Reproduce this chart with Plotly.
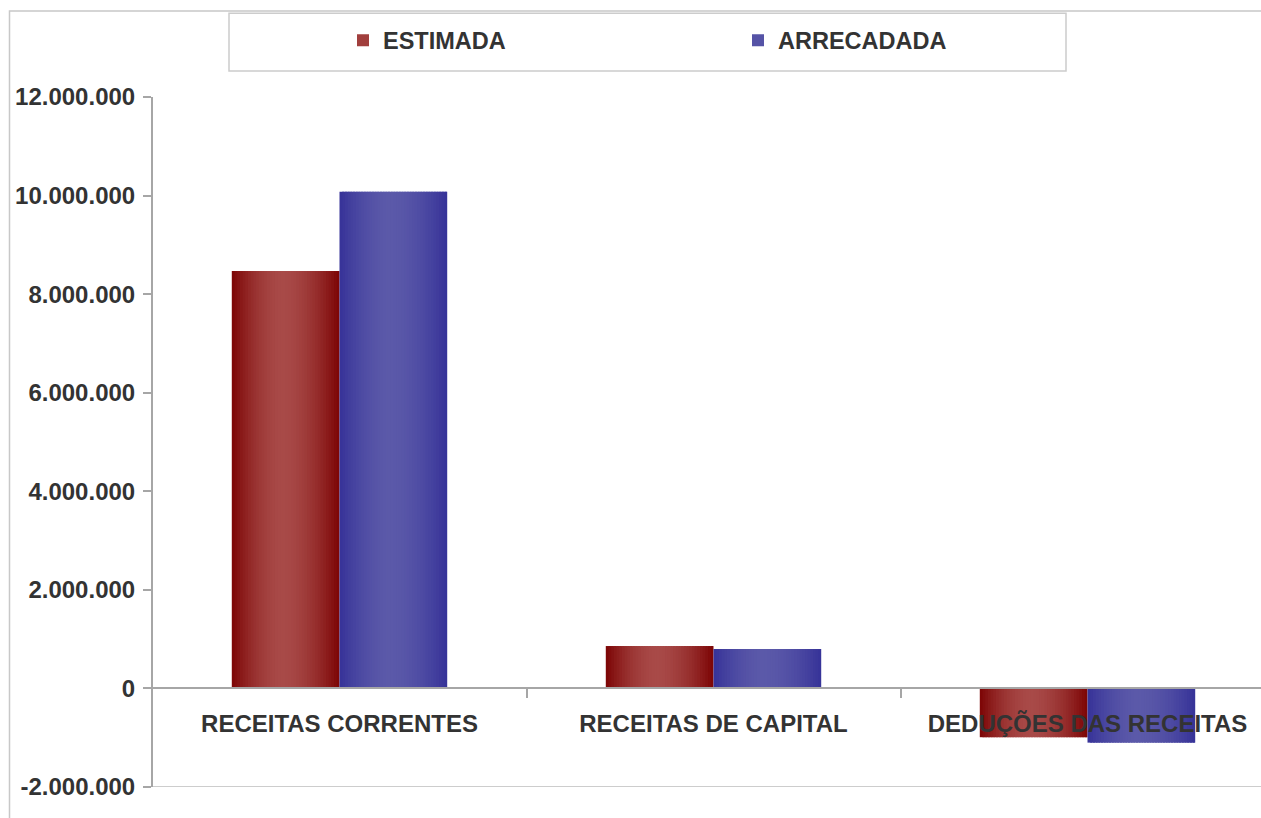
import math
import plotly.graph_objects as go

# Receitas: valores estimados x arrecadados (R$)
categorias = ["RECEITAS CORRENTES", "RECEITAS DE CAPITAL", "DEDUÇÕES DAS RECEITAS"]
estimada = [8_470_000, 860_000, -990_000]
arrecadada = [10_080_000, 800_000, -1_100_000]
series_nomes = ["ESTIMADA", "ARRECADADA"]

y_ticks = [-2_000_000, 0, 2_000_000, 4_000_000, 6_000_000, 8_000_000, 10_000_000, 12_000_000]
y_tick_labels = ["-2.000.000", "0", "2.000.000", "4.000.000", "6.000.000",
                 "8.000.000", "10.000.000", "12.000.000"]

FONT = "Liberation Sans, Arial, sans-serif"
TXT = "#333333"
AXIS = "#a6a6a6"

W, H = 1261, 818
ML, MR, MT, MB = 153, 0, 97, 31
PW, PH = W - ML - MR, H - MT - MB
CAT_PX = 374.0


def px_x(p):
    return (p - ML) / PW


def px_y(p):
    return (H - MB - p) / PH


def mix(c1, c2, f):
    return "rgb(%d,%d,%d)" % tuple(round(a + (b - a) * f) for a, b in zip(c1, c2))


def shade(t, peak=0.47):
    u = (t - peak) / (peak if t < peak else 1 - peak)
    return max(0.0, 1 - abs(u) ** 1.7)


# cylinder-like horizontal gradient, built from thin bar slices
estilos = [
    dict(dark=(124, 4, 4), light=(168, 74, 72), offset=-0.288),
    dict(dark=(54, 50, 152), light=(91, 89, 169), offset=0.0),
]
BAR_W = 0.288
N = 40

fig = go.Figure()
for s, (nome, valores, est) in enumerate(zip(series_nomes, [estimada, arrecadada], estilos)):
    step = BAR_W / N
    for i in range(N):
        t = (i + 0.5) / N
        off = est["offset"] + i * step
        wid = min(step * 1.8, est["offset"] + BAR_W - off)
        cor = mix(est["dark"], est["light"], shade(t))
        leg = i == int(N * 0.3)
        fig.add_trace(go.Bar(
            x=categorias, y=valores, name=nome,
            offset=off, width=wid,
            marker=dict(color=cor, line=dict(width=0)),
            showlegend=leg, legendgroup=nome, legendrank=s + 1,
            hovertemplate="%{x}<br>" + nome + ": %{y:,.0f}<extra></extra>",
        ))

x0 = -186.5 / CAT_PX
fig.update_layout(
    width=W, height=H,
    margin=dict(l=ML, r=MR, t=MT, b=MB, autoexpand=False),
    paper_bgcolor="white", plot_bgcolor="white",
    barmode="overlay",
    font=dict(family=FONT, size=24, color=TXT, weight="bold"),
    showlegend=True,
    legend=dict(
        orientation="h", x=px_x(343), xanchor="left", y=px_y(40.5), yanchor="middle",
        font=dict(family=FONT, size=23.5, color=TXT, weight="bold"),
        entrywidth=350, entrywidthmode="pixels",
        bgcolor="rgba(0,0,0,0)", borderwidth=0, traceorder="normal",
    ),
    xaxis=dict(
        type="category", categoryorder="array", categoryarray=categorias,
        range=[x0, x0 + PW / CAT_PX],
        anchor="free", position=2 / 14,
        showline=True, linecolor=AXIS, linewidth=2,
        ticks="outside", tickson="boundaries", ticklen=9, tickwidth=2, tickcolor=AXIS,
        ticklabelstandoff=14,
        showgrid=False, zeroline=False,
        tickfont=dict(family=FONT, size=24, color=TXT, weight="bold"),
    ),
    yaxis=dict(
        range=[-2_000_000, 12_000_000],
        tickmode="array", tickvals=y_ticks, ticktext=y_tick_labels,
        showline=True, linecolor=AXIS, linewidth=2,
        ticks="outside", ticklen=8, tickwidth=2, tickcolor=AXIS,
        ticklabelstandoff=3,
        showgrid=False, zeroline=False,
        tickfont=dict(family=FONT, size=24, color=TXT, weight="bold"),
    ),
    shapes=[
        # chart area border
        dict(type="rect", xref="paper", yref="paper",
             x0=px_x(9.5), x1=1.05, y0=-0.2, y1=px_y(11),
             line=dict(color="#c8c8c8", width=1.5), fillcolor="rgba(0,0,0,0)", layer="below"),
        # legend frame
        dict(type="rect", xref="paper", yref="paper",
             x0=px_x(229), x1=px_x(1066), y0=px_y(71), y1=px_y(13.3),
             line=dict(color="#cccccc", width=1.5), fillcolor="white", layer="below"),
        # bottom edge of the plot area
        dict(type="line", xref="paper", yref="y", x0=0, x1=1, y0=-2_000_000, y1=-2_000_000,
             line=dict(color="#bdbdbd", width=1.5)),
    ],
)

fig.write_html("out.html")
